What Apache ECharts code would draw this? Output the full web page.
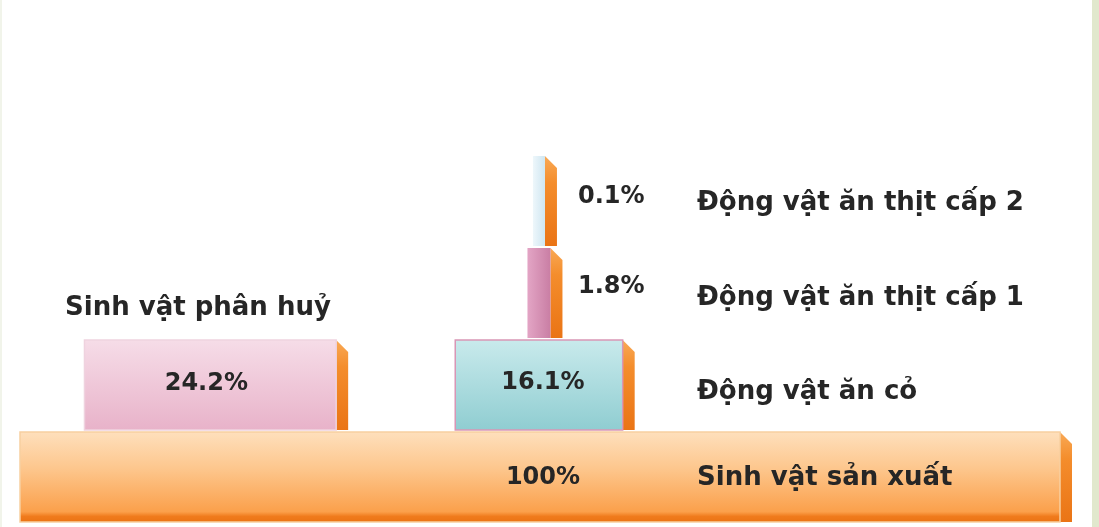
<!DOCTYPE html>
<html><head><meta charset="utf-8">
<script src="https://cdn.jsdelivr.net/npm/echarts@6/dist/echarts.min.js"></script>
<style>html,body{margin:0;padding:0;background:#fff}#c{width:1099px;height:527px}</style>
</head><body><div id="c"></div>
<script>
// ---- data ----
const levelNames = ['Sinh vật sản xuất', 'Động vật ăn cỏ', 'Động vật ăn thịt cấp 1', 'Động vật ăn thịt cấp 2'];
const levelValues = [100, 16.1, 1.8, 0.1];
const levelLabels = ['100%', '16.1%', '1.8%', '0.1%'];
const decomposerName = 'Sinh vật phân huỷ';
const decomposerValue = 24.2;
const decomposerLabel = '24.2%';

// ---- layout / style constants ----
const CENTER = 49.9;        // centre of pyramid column (axis units)
const DECOMP_LEFT = 6.2;    // left edge of decomposer bar (axis units)
const MIN_W = [0, 0, 23, 12];
const DEPTH = 12, SLANT = 12;
const FONT = '"DejaVu Sans", sans-serif';
const TXT = '#262626';
const G = (stops, h) => new echarts.graphic.LinearGradient(0, 0, h ? 1 : 0, h ? 0 : 1, stops.map((c) => ({offset: c[0], color: c[1]})));
const faceFill = [
  G([[0, '#fee0bd'], [0.4, '#fdc78e'], [0.88, '#fba04b'], [0.93, '#f07b1d'], [1, '#ea7212']]),
  G([[0, '#c9eaec'], [1, '#8fcdd1']]),
  G([[0, '#e3a5c5'], [1, '#c97ea4']], true),
  G([[0, '#eef7fb'], [1, '#cfe6f1']], true)
];
const decompFill = G([[0, '#f6dde8'], [1, '#e8b2c9']]);
const sideFill = G([[0, '#f9a955'], [0.3, '#f48d2c'], [1, '#ea7415']]);
const nameDy = [1, 7, 5, 2];
const valDy = [1, -2, -6, -4];

const seriesData = levelValues.map((v, i) => [v, i, 0]);
seriesData.push([decomposerValue, 1, 1]);

function renderItem(params, api) {
  const v = api.value(0), lvl = api.value(1), kind = api.value(2);
  let x0;
  if (kind === 1) x0 = DECOMP_LEFT;
  else if (lvl === 0) x0 = 0;
  else x0 = CENTER - v / 2;
  let pL = api.coord([x0, lvl])[0];
  let pR = api.coord([x0 + v, lvl])[0];
  const minW = kind === 1 ? 0 : MIN_W[lvl];
  if (pR - pL < minW) {
    const c = (pL + pR) / 2;
    pL = c - minW / 2; pR = c + minW / 2;
  }
  const yBot = api.coord([0, lvl])[1];
  const yTop = api.coord([0, lvl + 1])[1] + 2;
  const yMid = (yTop + yBot) / 2;
  const children = [];
  children.push({
    type: 'polygon',
    shape: {points: [[pR, yTop], [pR + DEPTH, yTop + SLANT], [pR + DEPTH, yBot], [pR, yBot]]},
    style: {fill: sideFill}
  });
  const fill = kind === 1 ? decompFill : faceFill[lvl];
  const stroke = kind === 1 ? '#efd3df' : (lvl === 1 ? '#d996b5' : (lvl === 0 ? '#f8cfa0' : null));
  children.push({
    type: 'rect',
    shape: {x: pL, y: yTop, width: pR - pL, height: yBot - yTop},
    style: {fill: fill, stroke: stroke, lineWidth: stroke ? 1.5 : 0}
  });
  const colMid = api.coord([CENTER, 0])[0] + 4;
  if (kind === 1) {
    children.push({type: 'text', style: {text: decomposerLabel, x: (pL + pR) / 2 - 4, y: yMid - 1,
      fontFamily: FONT, fontWeight: 'bold', fontSize: 24, fill: TXT, align: 'center', verticalAlign: 'middle',
      textAlign: 'center', textVerticalAlign: 'middle'}});
    children.push({type: 'text', style: {text: decomposerName, x: 65, y: yTop - 32,
      fontFamily: FONT, fontWeight: 'bold', fontSize: 26, fill: TXT, align: 'left', verticalAlign: 'middle',
      textAlign: 'left', textVerticalAlign: 'middle'}});
  } else {
    const inside = lvl <= 1;
    children.push({type: 'text', style: {text: levelLabels[lvl], x: inside ? colMid : 578, y: yMid + valDy[lvl],
      fontFamily: FONT, fontWeight: 'bold', fontSize: 24, fill: TXT,
      align: inside ? 'center' : 'left', verticalAlign: 'middle',
      textAlign: inside ? 'center' : 'left', textVerticalAlign: 'middle'}});
    children.push({type: 'text', style: {text: levelNames[lvl], x: 697, y: yMid + nameDy[lvl],
      fontFamily: FONT, fontWeight: 'bold', fontSize: 26, fill: TXT, align: 'left', verticalAlign: 'middle',
      textAlign: 'left', textVerticalAlign: 'middle'}});
  }
  return {type: 'group', children: children};
}

const chart = echarts.init(document.getElementById('c'), null, {renderer: 'canvas'});
chart.setOption({
  backgroundColor: '#ffffff',
  animation: false,
  grid: {left: 20, right: 39, top: 154, bottom: 5},
  xAxis: {type: 'value', min: 0, max: 100, show: false},
  yAxis: {type: 'value', min: 0, max: 4, show: false},
  graphic: [
    {type: 'rect', left: 1092, top: 0, shape: {width: 7, height: 527}, style: {fill: '#e1e8cd'}, z: 100},
    {type: 'rect', left: 0, top: 0, shape: {width: 2, height: 527}, style: {fill: '#f1f4ea'}, z: 100}
  ],
  series: [{
    type: 'custom',
    renderItem: renderItem,
    data: seriesData,
    clip: false
  }]
});
</script>
</body></html>
